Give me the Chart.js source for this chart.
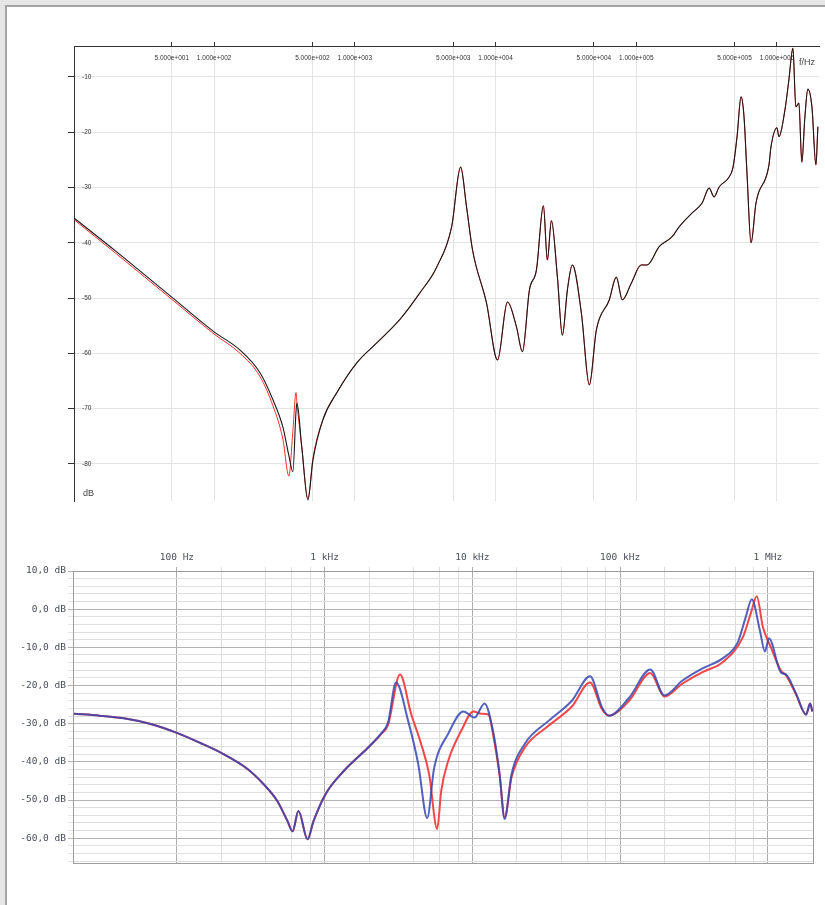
<!DOCTYPE html>
<html>
<head>
<meta charset="utf-8">
<script src="https://cdn.jsdelivr.net/npm/chart.js@4.4.1/dist/chart.umd.min.js"></script>
<style>
html, body { margin: 0; padding: 0; background: #e6e6e6; overflow: hidden; }
#page { position: absolute; left: 5px; top: 5px; width: 900px; height: 1000px; background: #fff;
        border-left: 2px solid #a3a3a3; border-top: 2px solid #a3a3a3; }
canvas { position: absolute; left: 0; }
#topChart { top: 0; }
#bottomChart { top: 515px; }
</style>
</head>
<body>
<div id="page"></div>
<canvas id="topChart" width="825" height="515"></canvas>
<canvas id="bottomChart" width="825" height="390"></canvas>
<script>
// ---- top chart data (f in Hz, level in dB) ----
const topFreq = [10.1, 20, 51, 100, 153, 212, 262, 308, 340, 363, 382, 388, 420, 464, 504, 593, 745,
    1033, 1432, 2085, 2891, 3817, 4875, 5649, 6223, 6866, 8630, 10330, 12160, 14090, 15530,
    17420, 19530, 21890, 23360, 24950, 27530, 29860, 32420, 35170, 40740, 46430, 52050,
    64410, 72140, 79620, 92240, 108500, 119600, 145500, 180000, 201800, 249600, 293800,
    329600, 357300, 388100, 457100, 487600, 520500, 555900, 583400, 612400, 654600, 709800,
    877700, 906200, 1000000, 1033000, 1139000, 1216000, 1298000, 1363000, 1431000, 1503000,
    1580000, 1659000, 1772000, 1892000, 1954000];
const topBlack = [-35.5, -41.5, -50, -56.1, -59.4, -63.5, -68.4, -73.3, -78.5, -81.4, -70.5, -69, -77, -86.5, -79.3, -72, -67.1,
    -61.7, -58.1, -53.9, -49.1, -44.4, -37.1, -26.3, -33.5, -41.3, -50.9, -61.2, -50.7, -55.2, -59.7,
    -48.5, -44.9, -33.3, -43.1, -36, -46.2, -56.7, -48.5, -44, -52.7, -65.7, -55.8,
    -50.3, -46.2, -50.3, -47.3, -44, -44, -40.7, -38.9, -37.1, -34.6, -32.8,
    -30.1, -31.7, -29.9, -28.1, -26.3, -20.8, -13.6, -17.2, -27.4, -40, -32.8,
    -25.9, -22.7, -19.2, -20.8, -16, -10.5, -4.8, -15.4, -14.7, -25.4,
    -17.2, -12.2, -15.4, -25.9, -19];
const topRed = [-35.8, -41.9, -50.4, -56.5, -60, -64.2, -69.5, -75.5, -82.2, -74, -67.1, -69, -77, -86.3, -79, -72, -67.1,
    -61.7, -58.1, -53.9, -49.1, -44.4, -37.1, -26.3, -33.5, -41.3, -50.9, -61.2, -50.7, -55.2, -59.7,
    -48.5, -44.9, -33.3, -43.1, -36, -46.2, -56.7, -48.5, -44, -52.7, -65.7, -55.8,
    -50.3, -46.2, -50.3, -47.3, -44, -44, -40.7, -38.9, -37.1, -34.6, -32.8,
    -30.1, -31.7, -29.9, -28.1, -26.3, -20.8, -13.6, -17.2, -27.4, -40, -32.8,
    -25.9, -22.7, -19.2, -20.8, -16, -10.5, -4.8, -15.4, -14.7, -25.4,
    -17.2, -12.2, -15.4, -25.9, -19];
const topXTicks = [50, 100, 500, 1000, 5000, 10000, 50000, 100000, 500000, 1000000];
const topXLabels = ['5.000e+001', '1.000e+002', '5.000e+002', '1.000e+003', '5.000e+003',
    '1.000e+004', '5.000e+004', '1.000e+005', '5.000e+005', '1.000e+006'];
const topYTicks = [-10, -20, -30, -40, -50, -60, -70, -80];

// ---- bottom chart data ----
const blueFreq = [20, 30, 45.7, 65.5, 100, 143, 205, 299, 385, 479, 560, 606, 665, 766, 841, 1016, 1347, 1962,
    2404, 2685, 3043, 3670, 4295, 4943, 5508, 6866, 8690, 10330, 12080, 13900, 15280, 16520, 18420,
    22590, 32890, 47130, 62520, 75510, 84140, 115000, 160000, 199000, 264000, 361000, 494000,
    625000, 708000, 778000, 882000, 955000, 1016000, 1225000, 1324000, 1549000, 1814000, 1932000, 2000000];
const blueDb = [-27.4, -27.9, -28.7, -30, -32.4, -35, -37.9, -41.8, -45.8, -50.3, -55.5, -58.2, -52.9, -60.3, -55.5, -48.4, -42.4, -36.3,
    -32.6, -29.7, -19.2, -29.2, -40.5, -54.7, -41.6, -32.6, -26.8, -28.4, -24.7, -32.6, -43.2, -55, -43.2,
    -35.3, -29.2, -24, -17.6, -25.8, -27.9, -23.2, -15.8, -22.6, -18.7, -15.5, -12.9,
    -8.7, -2.1, 2.6, -5.5, -11.1, -7.6, -16.6, -17.1, -22.1, -27.6, -24.7, -26.8];
const redFreq = [20, 30, 45.7, 65.5, 100, 143, 205, 299, 385, 479, 560, 606, 665, 766, 841, 1016, 1347, 1962,
    2404, 2685, 3236, 3846, 4498, 5093, 5775, 6152, 6866, 8420, 10170, 11510, 12840, 13900, 15280, 16520,
    18420, 22590, 32890, 47130, 62520, 75510, 84140, 115000, 160000, 199000, 264000, 361000, 494000,
    676000, 766000, 841000, 925000, 1048000, 1225000, 1324000, 1549000, 1814000, 1932000, 2000000];
const redDb = [-27.4, -27.9, -28.7, -30, -32.4, -35, -37.9, -41.8, -45.8, -50.3, -55.5, -58.2, -52.9, -60.3, -55.5, -48.4, -42.4, -36.3,
    -32.8, -30.3, -17.1, -27.4, -35.3, -43.2, -57.6, -47.6, -39.7, -31.8, -26.8, -27.4, -27.6, -33.5, -43.5, -54.5,
    -44, -36.3, -30.5, -25.5, -19.2, -26.3, -27.9, -24, -16.7, -22.9, -19.5, -16.5, -13.9,
    -7.4, -1.1, 3.4, -4.7, -10, -16.1, -17.3, -22.3, -27.6, -24.7, -26.8];
const botXMajor = [100, 1000, 10000, 100000, 1000000];
const botXLabels = ['100 Hz', '1 kHz', '10 kHz', '100 kHz', '1 MHz'];
const botYMajor = [10, 0, -10, -20, -30, -40, -50, -60];

const pts = (xs, ys) => xs.map((x, i) => ({ x: x, y: ys[i] }));

// labels "dB" and "f/Hz" of the upper plot
const topTitles = {
    id: 'topTitles',
    afterDraw(chart) {
        const { ctx, chartArea } = chart;
        ctx.save();
        ctx.fillStyle = '#444';
        ctx.font = '9px "Liberation Sans", Arial, sans-serif';
        ctx.textBaseline = 'middle';
        ctx.fillText('dB', chartArea.left + 9, chartArea.bottom - 7);
        ctx.fillText('f/Hz', chartArea.right - 20, chartArea.top + 17);
        ctx.restore();
    }
};

// frame round the lower plot
const frame = {
    id: 'frame',
    afterDatasetsDraw(chart) {
        const { ctx, chartArea: a } = chart;
        ctx.save();
        ctx.strokeStyle = '#9c9c9c';
        ctx.lineWidth = 1;
        ctx.strokeRect(Math.round(a.left) + 0.5, Math.round(a.top) + 0.5,
            Math.round(a.right - a.left), Math.round(a.bottom - a.top));
        ctx.restore();
    }
};

Chart.defaults.animation = false;
Chart.defaults.plugins.legend.display = false;
Chart.defaults.plugins.tooltip.enabled = false;

// Upper chart
new Chart(document.getElementById('topChart'), {
    type: 'line',
    data: {
        datasets: [{
            label: 'black',
            data: pts(topFreq, topBlack),
            borderColor: '#1a1a1a',
            borderWidth: 1.1,
            pointRadius: 0,
            cubicInterpolationMode: 'monotone'
        }, {
            label: 'red',
            data: pts(topFreq, topRed),
            borderColor: '#ff2a2a',
            borderWidth: 1,
            pointRadius: 0,
            cubicInterpolationMode: 'monotone'
        }]
    },
    options: {
        responsive: false,
        devicePixelRatio: 1,
        layout: { padding: { left: 74, top: 46, right: 6, bottom: 14 } },
        scales: {
            x: {
                type: 'logarithmic',
                position: 'top',
                min: 10.1,
                max: 1990000,
                afterBuildTicks: s => { s.ticks = topXTicks.map(v => ({ value: v })); },
                afterFit: s => { s.height = 0; },
                grid: { color: '#e3e3e3', tickColor: '#333', tickLength: 4 },
                border: { color: '#333', width: 1 },
                ticks: {
                    // mirror puts the labels under the axis line, inside the plot
                    mirror: true,
                    autoSkip: false, maxRotation: 0, minRotation: 0, padding: 8,
                    color: '#333',
                    font: { family: '"Liberation Sans Narrow", "Liberation Sans", Arial, sans-serif', size: 6.5 },
                    callback: v => topXLabels[topXTicks.indexOf(v)] || ''
                }
            },
            y: {
                type: 'linear',
                min: -86.7,
                max: -4.4,
                afterBuildTicks: s => { s.ticks = topYTicks.map(v => ({ value: v })); },
                afterFit: s => { s.width = 0; },
                grid: { color: '#e3e3e3', tickColor: '#333', tickLength: 6 },
                border: { color: '#333', width: 1 },
                ticks: {
                    mirror: true, padding: 8, autoSkip: false,
                    color: '#333',
                    font: { family: '"Liberation Sans", Arial, sans-serif', size: 6.5 },
                    callback: v => String(v)
                }
            }
        }
    },
    plugins: [topTitles]
});

// Lower chart
const botXTicks = [];
botXMajor.forEach(d => [1, 2, 4, 6, 8].forEach(m => { if (d * m < 2000000) botXTicks.push(d * m); }));
const botYTicks = [];
for (let v = 10; v >= -66; v -= 2) botYTicks.push(v);

new Chart(document.getElementById('bottomChart'), {
    type: 'line',
    data: {
        datasets: [{
            label: 'blue',
            data: pts(blueFreq, blueDb),
            borderColor: 'rgba(52, 70, 178, 0.85)',
            borderWidth: 2,
            pointRadius: 0,
            cubicInterpolationMode: 'monotone'
        }, {
            label: 'red',
            data: pts(redFreq, redDb),
            borderColor: '#f2474a',
            borderWidth: 2,
            pointRadius: 0,
            cubicInterpolationMode: 'monotone'
        }]
    },
    options: {
        responsive: false,
        devicePixelRatio: 1,
        layout: { padding: { left: 0, top: 0, right: 12, bottom: 42 } },
        scales: {
            x: {
                type: 'logarithmic',
                position: 'top',
                min: 19.8,
                max: 2020000,
                afterBuildTicks: s => { s.ticks = botXTicks.map(v => ({ value: v })); },
                afterFit: s => { s.height = 56; },
                grid: {
                    color: c => botXMajor.includes(c.tick.value) ? '#ababab' : '#dcdcdc',
                    tickColor: c => botXMajor.includes(c.tick.value) ? '#ababab' : '#dcdcdc',
                    tickLength: 4
                },
                border: { display: false },
                ticks: {
                    autoSkip: false, maxRotation: 0, minRotation: 0, padding: 4,
                    color: '#4a4f5a',
                    font: { family: '"DejaVu Sans Mono", monospace', size: 9.5 },
                    callback: v => botXLabels[botXMajor.indexOf(v)] || ''
                }
            },
            y: {
                type: 'linear',
                min: -66.5,
                max: 10,
                afterBuildTicks: s => { s.ticks = botYTicks.map(v => ({ value: v })); },
                afterFit: s => { s.width = 73; },
                grid: {
                    color: c => botYMajor.includes(c.tick.value) ? '#b3b3b3' : '#dedede',
                    tickColor: c => botYMajor.includes(c.tick.value) ? '#b3b3b3' : '#e6e6e6',
                    tickLength: 5
                },
                border: { display: false },
                ticks: {
                    padding: 2, autoSkip: false,
                    color: '#4a4f5a',
                    font: { family: '"DejaVu Sans Mono", monospace', size: 9.5 },
                    callback: v => botYMajor.includes(v) ? v.toFixed(1).replace('.', ',') + ' dB' : ''
                }
            }
        }
    },
    plugins: [frame]
});
</script>
</body>
</html>
